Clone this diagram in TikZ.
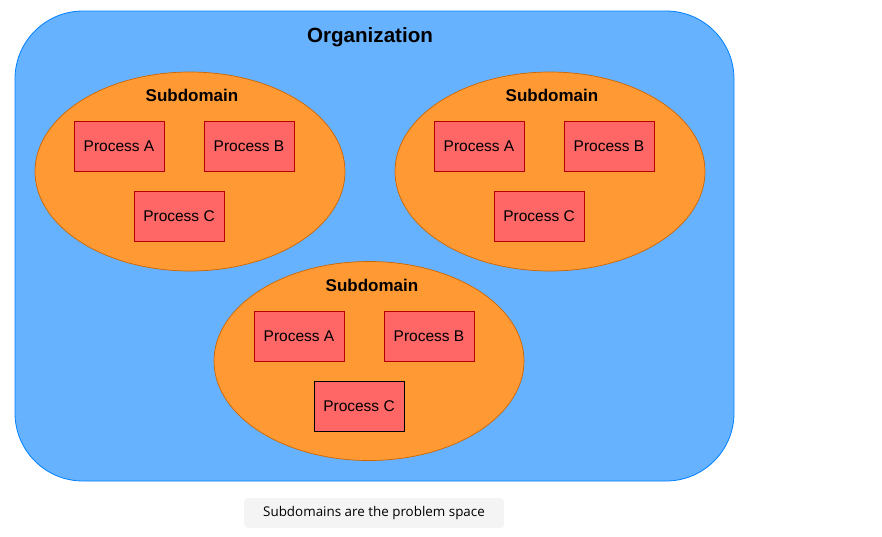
\documentclass[tikz,border=0pt]{standalone}
\usepackage{fontspec}
\setmainfont{Liberation Sans}
\newfontfamily\capfont{Open Sans}
\usetikzlibrary{shapes.geometric}
\definecolor{orgfill}{HTML}{66B2FF}
\definecolor{orgline}{HTML}{007FFF}
\definecolor{subfill}{HTML}{FF9933}
\definecolor{subline}{HTML}{CC6600}
\definecolor{procfill}{HTML}{FF6666}
\definecolor{procline}{HTML}{B20000}
\definecolor{capfill}{HTML}{F4F4F4}
\tikzset{
  org/.style={draw=orgline, fill=orgfill, line width=0.8pt, rounded corners=68pt, minimum width=719pt, minimum height=470pt, inner sep=0pt},
  sub/.style={ellipse, draw=subline, fill=subfill, line width=0.7pt, minimum width=310pt, minimum height=199pt, inner sep=0pt},
  proc/.style={draw=procline, fill=procfill, line width=0.8pt, minimum width=90pt, minimum height=50pt, inner sep=0pt, font=\fontsize{15.5}{18}\selectfont},
  lbl/.style={font=\fontsize{17}{20}\selectfont\bfseries, inner sep=0pt},
  orglbl/.style={font=\fontsize{20.6}{24}\selectfont\bfseries, inner sep=0pt},
  caption/.style={fill=capfill, rounded corners=4pt, minimum width=260pt, minimum height=30pt, inner sep=0pt, font=\capfont\fontsize{13.4}{16}\selectfont}
}
\begin{document}
\begin{tikzpicture}[x=1pt,y=-1pt]
\useasboundingbox (0,0) rectangle (882,536);
\node[org] (org) at (374.5,246) {};
\node[orglbl] (orgt) at (370,37.5) {Organization};
% subdomain 1
\node[sub] (s1) at (190,171.5) {};
\node[lbl] (s1t) at (192,95) {Subdomain};
\node[proc] (a1) at (119,146) {Process A};
\node[proc] (b1) at (249,146) {Process B};
\node[proc] (c1) at (179,216) {Process C};
% subdomain 2
\node[sub] (s2) at (550,171.5) {};
\node[lbl] (s2t) at (552,95) {Subdomain};
\node[proc] (a2) at (479,146) {Process A};
\node[proc] (b2) at (609,146) {Process B};
\node[proc] (c2) at (539,216) {Process C};
% subdomain 3
\node[sub] (s3) at (369,361) {};
\node[lbl] (s3t) at (372,285) {Subdomain};
\node[proc] (a3) at (299,336) {Process A};
\node[proc] (b3) at (429,336) {Process B};
\node[proc, draw=black] (c3) at (359,406) {Process C};
% caption
\node[caption] (cap) at (374,513) {Subdomains are the problem space};
\end{tikzpicture}
\end{document}
